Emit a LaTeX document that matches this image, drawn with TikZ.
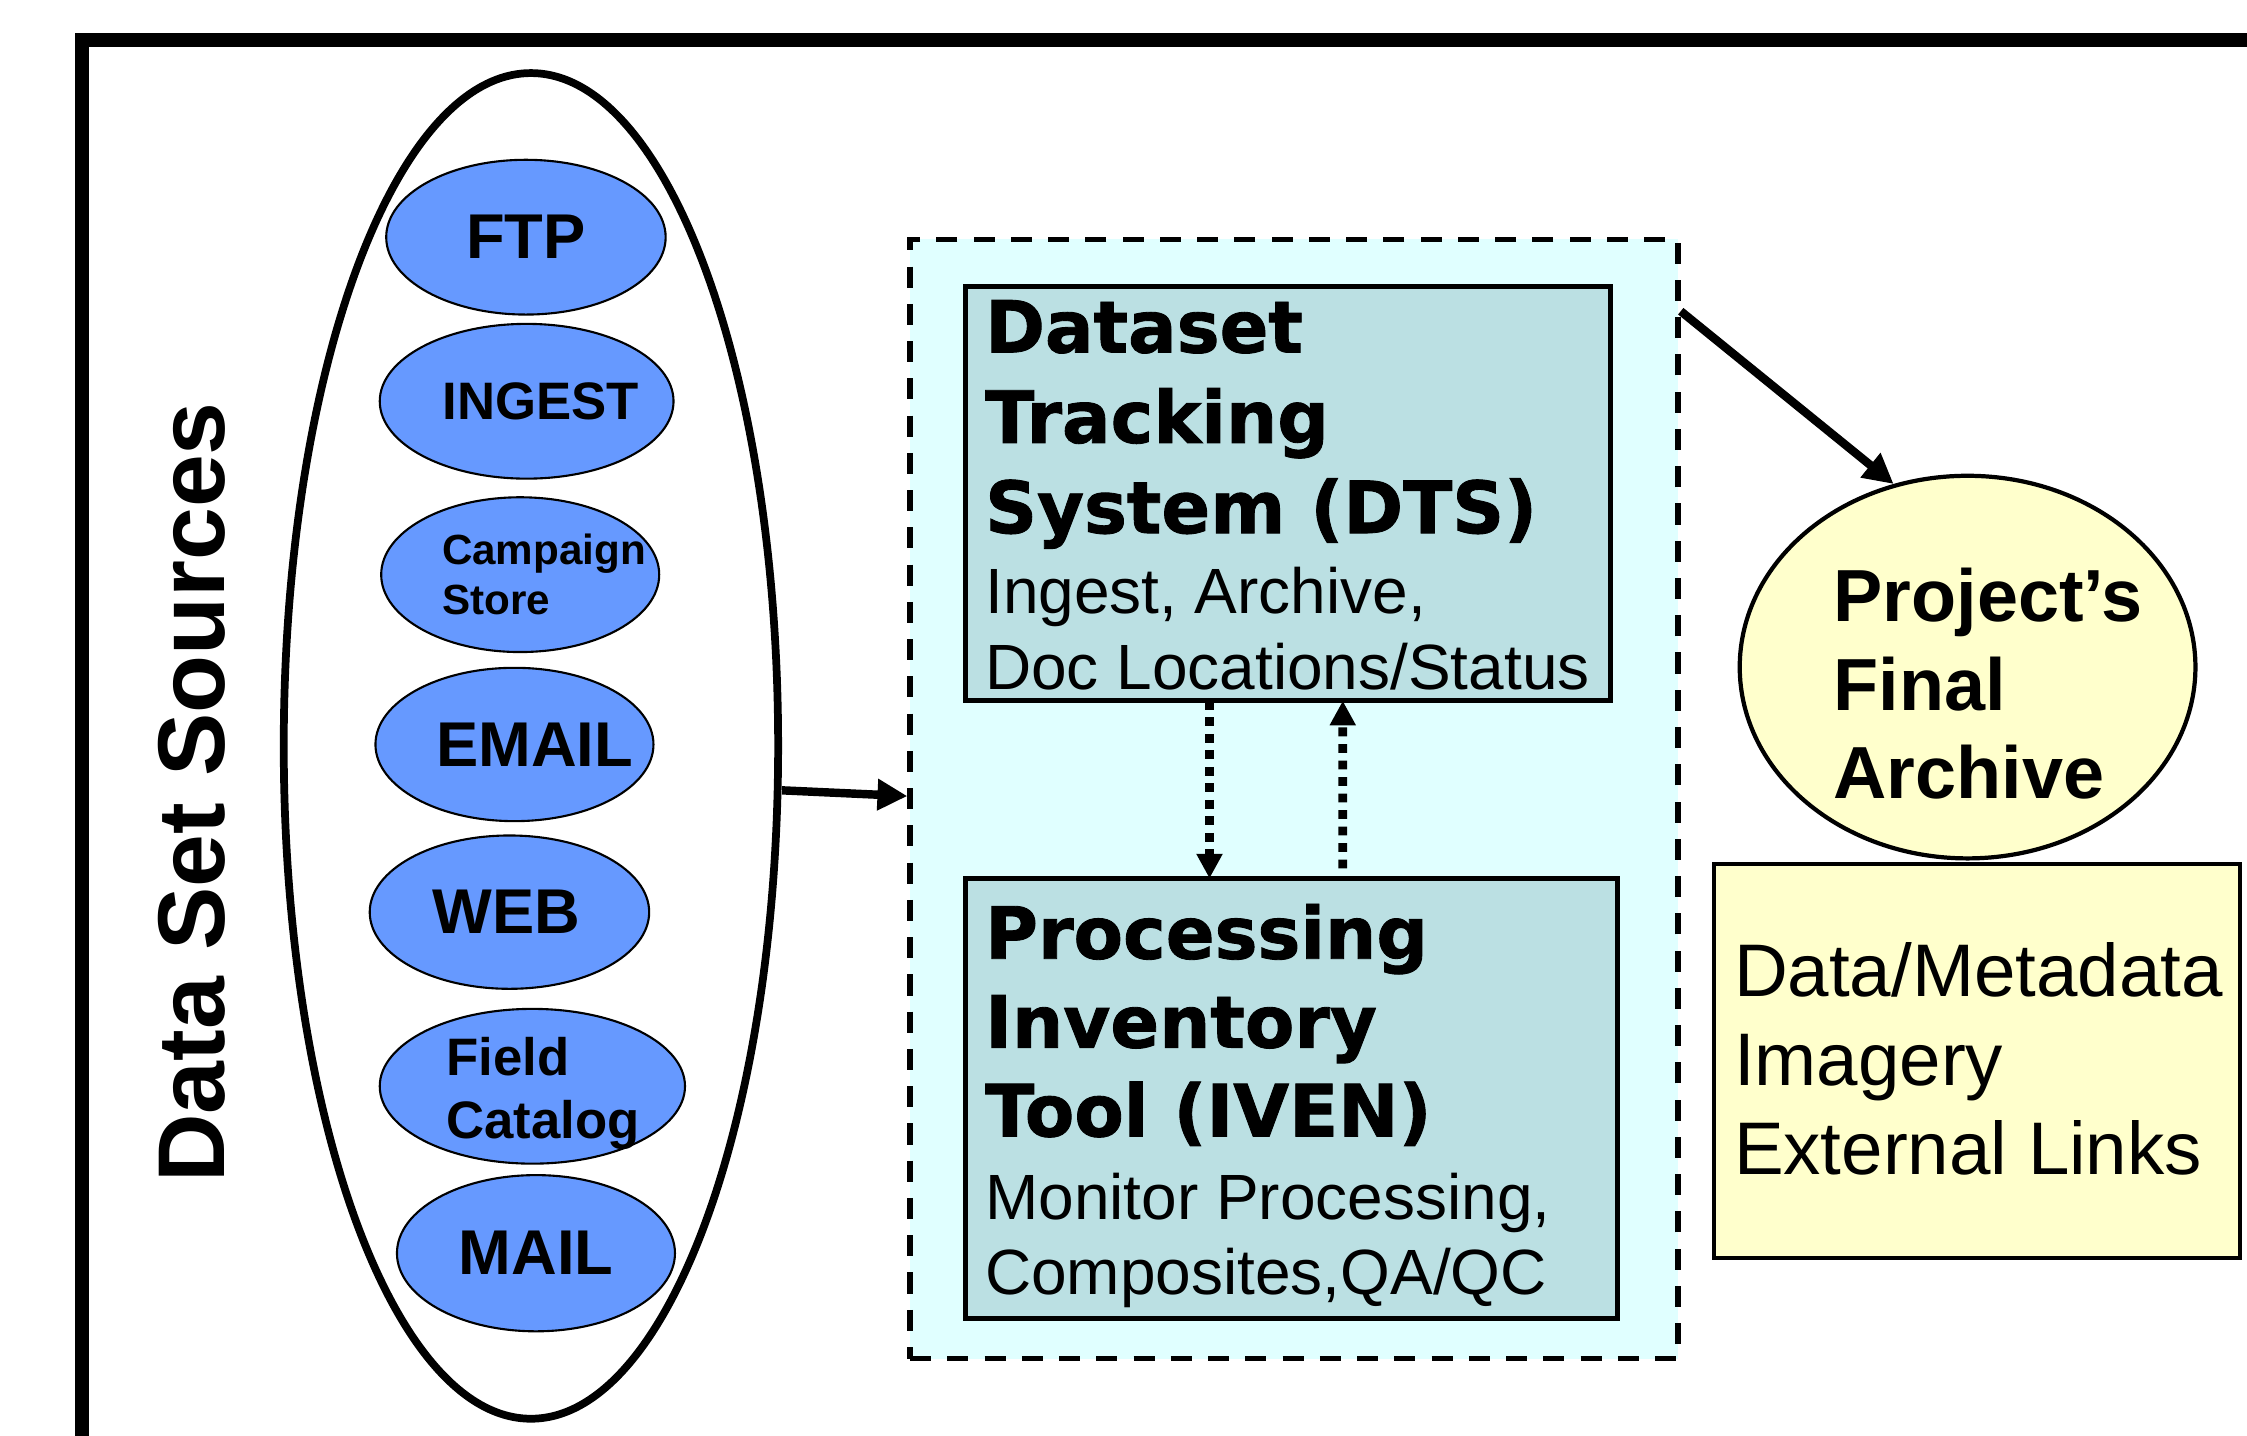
\documentclass[tikz,border=0pt]{standalone}
\usepackage{fontspec}
\setmainfont{Liberation Sans}
\newfontfamily\heavyfont{DejaVu Sans}[BoldFeatures={FakeBold=1.2}]
\usetikzlibrary{shapes.geometric, arrows.meta}
\newlength{\pxu}
\setlength{\pxu}{0.4077pt}
\definecolor{srcblue}{HTML}{6699FF}
\definecolor{toolfill}{HTML}{BBE0E3}
\definecolor{pipefill}{HTML}{E0FFFF}
\definecolor{archfill}{HTML}{FFFFCC}

\begin{document}
\begin{tikzpicture}[x=\pxu, y=-1\pxu,
  src/.style={ellipse, draw, line width=0.6pt, fill=srcblue, inner sep=0pt},
  srclbl/.style={font=\bfseries\fontsize{18}{20}\selectfont, inner sep=0pt},
  toolbox/.style={rectangle, draw, line width=1.4pt, fill=toolfill, inner sep=0pt, outer sep=0pt},
  heading/.style={font=\heavyfont\bfseries\fontsize{20.5}{24}\selectfont, anchor=base west, inner sep=0pt},
  detail/.style={font=\fontsize{18.2}{21}\selectfont, anchor=base west, inner sep=0pt},
  archline/.style={font=\fontsize{21.2}{24}\selectfont, anchor=base west, inner sep=0pt},
  bigarrow/.style={-{Triangle[length=8.5pt,width=8.5pt]}, line width=2.4pt},
  dotarrow/.style={-{Triangle[length=7pt,width=7pt]}, line width=2.5pt, dash pattern=on 2.5pt off 2.2pt}]

  \useasboundingbox (0,0) rectangle (1568,1002);
  \clip (0,0) rectangle (1568,1002);
  \fill[white] (0,0) rectangle (1568,1002);
  \draw[line width=4pt] (57.3,1012) -- (57.3,28.2) -- (1580,28.2);

  % sources
  \node[ellipse, draw, line width=2.2pt, minimum width=345\pxu, minimum height=939\pxu, inner sep=0pt] (src) at (370.5,520.5) {};
  \node[rotate=90, anchor=base, font=\bfseries\fontsize{27}{31}\selectfont, inner sep=0pt] (srctitle) at (157,553) {Data Set Sources};

  \node[src, minimum width=195\pxu, minimum height=108\pxu] (ftp) at (367,165.5) {};
  \node[srclbl] (ftp-l) at (ftp) {FTP};
  \node[src, minimum width=205\pxu, minimum height=108\pxu] (ingest) at (367.5,280) {};
  \node[srclbl, font=\bfseries\fontsize{15}{17}\selectfont] (ingest-l) at ([xshift=10\pxu]ingest.center) {INGEST};
  \node[src, minimum width=194\pxu, minimum height=108\pxu] (camp) at (363,401) {};
  \node[srclbl, font=\bfseries\fontsize{12}{14.3}\selectfont, align=left, anchor=west] (camp-l) at ([xshift=-55\pxu]camp.center) {Campaign\\Store};
  \node[src, minimum width=194\pxu, minimum height=107\pxu] (email) at (359,519.5) {};
  \node[srclbl] (email-l) at ([xshift=14\pxu]email.center) {EMAIL};
  \node[src, minimum width=195\pxu, minimum height=107\pxu] (web) at (355.5,636.5) {};
  \node[srclbl] (web-l) at ([xshift=-2\pxu]web.center) {WEB};
  \node[src, minimum width=213\pxu, minimum height=108\pxu] (field) at (371.5,758) {};
  \node[srclbl, font=\bfseries\fontsize{15}{18}\selectfont, align=left, anchor=west] (field-l) at ([xshift=-60.5\pxu,yshift=-5\pxu]field.center) {Field\\Catalog};
  \node[src, minimum width=194\pxu, minimum height=109\pxu] (mail) at (374,874.5) {};
  \node[srclbl] (mail-l) at (mail) {MAIL};

  % tracking and inventory
  \node[draw, line width=1.5pt, dash pattern=on 6pt off 4.6pt, fill=pipefill, minimum width=536\pxu, minimum height=781\pxu, inner sep=0pt] (pipe) at (903,557.5) {};
  \node[toolbox, minimum width=450\pxu, minimum height=289\pxu] (dts) at (899,344.5) {};
  \node[toolbox, minimum width=455\pxu, minimum height=307\pxu] (iven) at (901.5,766.5) {};

  \foreach \l [count=\i] in {Dataset, Tracking, System (DTS)}
    \node[heading] (dts-h\i) at ([shift={(13,{46+63*(\i-1)})}]dts.north west) {\l};
  \foreach \l [count=\i] in {{Ingest, Archive,}, Doc Locations/Status}
    \node[detail] (dts-d\i) at ([shift={(13,{228+53*(\i-1)})}]dts.north west) {\l};
  \foreach \l [count=\i] in {Processing, Inventory, Tool (IVEN)}
    \node[heading] (iven-h\i) at ([shift={(13,{56+62*(\i-1)})}]iven.north west) {\l};
  \foreach \l [count=\i] in {{Monitor Processing,}, {Composites,QA/QC}}
    \node[detail] (iven-d\i) at ([shift={(13,{238+52*(\i-1)})}]iven.north west) {\l};

  \draw[dotarrow] ([xshift=-55\pxu]dts.south) -- ([xshift=-57.5\pxu]iven.north);
  \draw[dotarrow] ([xshift=35.5\pxu,yshift=7\pxu]iven.north) -- ([xshift=38\pxu]dts.south);

  % archive
  \node[ellipse, draw, line width=1.2pt, fill=archfill, minimum width=318\pxu, minimum height=267\pxu, inner sep=0pt] (archive) at (1373,465.5) {};
  \foreach \l [count=\i] in {Project’s, Final, Archive}
    \node[archline, font=\bfseries\fontsize{21}{24}\selectfont] (archive-\i) at ([shift={(-94,{-32+62*(\i-1)})}]archive.center) {\l};
  \node[draw, line width=1.2pt, fill=archfill, minimum width=367\pxu, minimum height=275\pxu, inner sep=0pt] (contents) at (1379.5,740.5) {};
  \foreach \l [count=\i] in {Data/Metadata, Imagery, External Links}
    \node[archline] (contents-\i) at ([shift={(15,{94+62*(\i-1)})}]contents.north west) {\l};

  \draw[bigarrow] ([yshift=-31\pxu]src.east) -- ([yshift=2\pxu]pipe.west);
  \draw[bigarrow] ([yshift=-52\pxu]pipe.north east) -- (archive.112);
\end{tikzpicture}
\end{document}
